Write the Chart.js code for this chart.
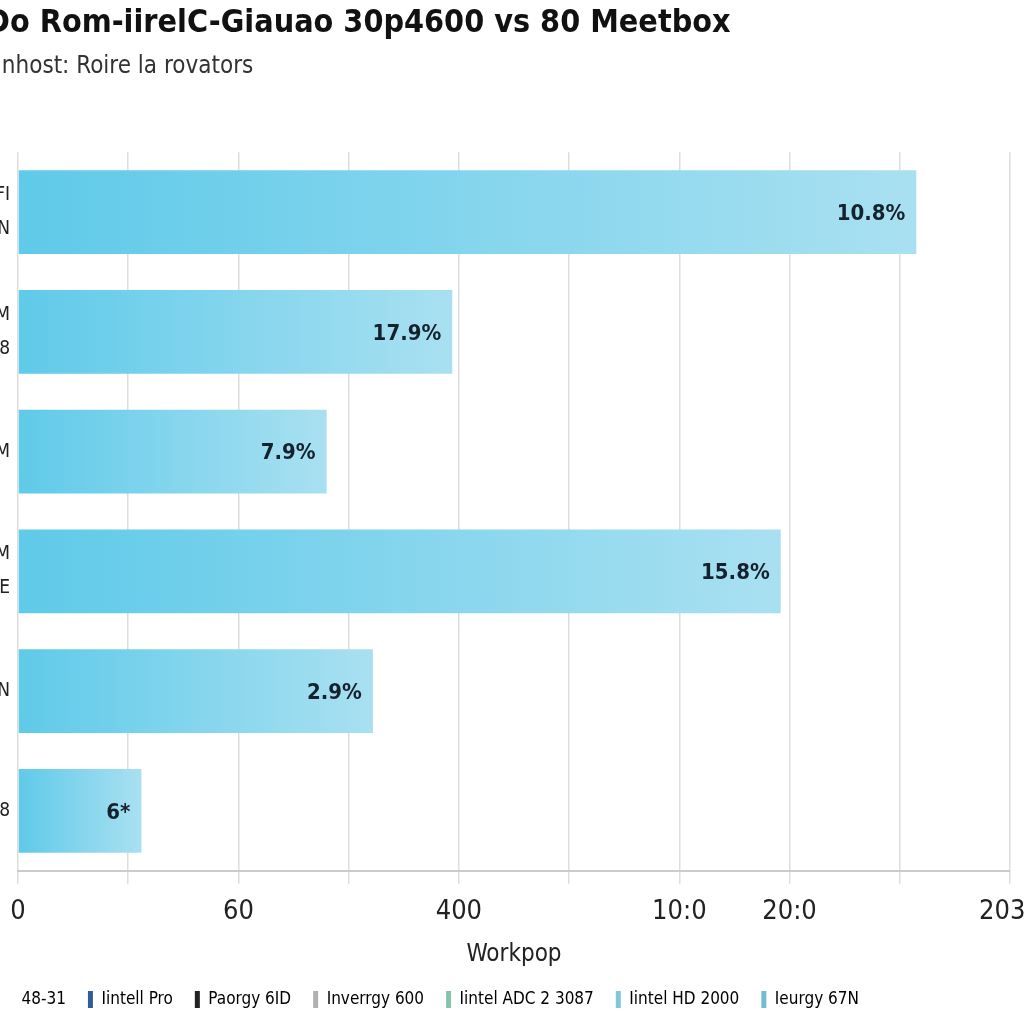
<!DOCTYPE html>
<html>
<head>
<meta charset="utf-8">
<script src="https://cdn.jsdelivr.net/npm/chart.js@4.4.1/dist/chart.umd.min.js"></script>
<style>
  html, body { margin: 0; padding: 0; background: #fff; overflow: hidden; }
  #wrap { position: absolute; left: -14px; top: 0; width: 1070px; height: 1024px; }
</style>
</head>
<body>
<div id="wrap"><canvas id="chart"></canvas></div>
<script>
const TITLE = 'Do Rom-iirelC-Giauao 30p4600 vs 80 Meetbox';
const SUBTITLE = 'Unhost: Roire la rovators';
const X_TITLE = 'Workpop';

const categories = [['FI', 'N'], ['M', '8'], ['M'], ['M', 'E'], ['N'], ['a8']];
const values = [8.15, 3.94, 2.8, 6.92, 3.22, 1.12];
const valueLabels = ['10.8%', '17.9%', '7.9%', '15.8%', '2.9%', '6*'];
const xTickLabels = ['0', '', '60', '', '400', '', '10:0', '20:0', '', '2030'];

const legendNames = ['48-31', 'Iintell Pro', 'Paorgy 6ID', 'Inverrgy 600', 'Iintel ADC 2 3087', 'Iintel HD 2000', 'Ieurgy 67N'];
const legendColors = ['rgba(0,0,0,0)', '#2f5d9c', '#222222', '#b0b0b0', '#86c4ab', '#7ec9dc', '#72bcd0'];

const NARROW = '"Liberation Sans Narrow", "DejaVu Sans Condensed", "Roboto", sans-serif';

// Left-to-right gradient along each bar
function barGradient(c) {
  const chart = c.chart;
  if (!chart.chartArea || c.type !== 'data') return '#6fd0ec';
  const x = chart.scales.x;
  const x0 = x.getPixelForValue(0);
  const x1 = x.getPixelForValue(c.raw);
  const g = chart.ctx.createLinearGradient(x0, 0, x1, 0);
  g.addColorStop(0, '#5fcae9');
  g.addColorStop(1, '#a9e0f1');
  return g;
}

// Percent labels inside the end of each bar
const valueLabelPlugin = {
  id: 'valueLabels',
  afterDatasetsDraw(chart) {
    const ctx = chart.ctx;
    const meta = chart.getDatasetMeta(0);
    ctx.save();
    ctx.font = 'bold 22px ' + NARROW;
    ctx.fillStyle = '#15222e';
    ctx.textAlign = 'right';
    ctx.textBaseline = 'middle';
    meta.data.forEach((bar, i) => {
      ctx.fillText(valueLabels[i], bar.x - 11, bar.y + 2);
    });
    ctx.restore();
  }
};

new Chart(document.getElementById('chart'), {
  type: 'bar',
  data: {
    labels: categories,
    datasets: [{
      data: values,
      backgroundColor: barGradient,
      borderWidth: 0,
      barPercentage: 0.7,
      categoryPercentage: 1
    }]
  },
  options: {
    indexAxis: 'y',
    responsive: true,
    maintainAspectRatio: false,
    animation: false,
    layout: { padding: { left: 0, right: 46, top: 0, bottom: 6 } },
    plugins: {
      title: {
        display: true,
        text: TITLE,
        align: 'start',
        color: '#111111',
        font: { family: NARROW, size: 32, weight: 'bold' },
        padding: { top: 4, bottom: 10 }
      },
      subtitle: {
        display: true,
        text: SUBTITLE,
        align: 'start',
        color: '#333333',
        font: { family: NARROW, size: 24 },
        padding: { top: 0, bottom: 71 }
      },
      legend: {
        position: 'bottom',
        align: 'start',
        labels: {
          boxWidth: 5,
          boxHeight: 17,
          padding: 22,
          color: '#333333',
          font: { family: NARROW, size: 17 },
          generateLabels: () => legendNames.map((name, i) => ({
            text: name,
            fillStyle: legendColors[i],
            strokeStyle: legendColors[i],
            lineWidth: 0,
            hidden: false,
            index: i
          }))
        }
      },
      tooltip: { enabled: false }
    },
    scales: {
      x: {
        type: 'linear',
        min: 0,
        max: 9,
        ticks: {
          stepSize: 1,
          color: '#222222',
          font: { family: NARROW, size: 27 },
          padding: 12,
          maxRotation: 0,
          autoSkip: false,
          callback: v => xTickLabels[v]
        },
        grid: { color: '#dddddd', lineWidth: 1.5, tickLength: 13 },
        border: { color: '#cccccc', width: 2 },
        title: {
          display: true,
          text: X_TITLE,
          color: '#222222',
          font: { family: NARROW, size: 24 },
          padding: { top: 0, bottom: 0 }
        }
      },
      y: {
        ticks: {
          color: '#222222',
          font: { family: NARROW, size: 19, lineHeight: 1.8 },
          padding: 0
        },
        grid: { display: false },
        border: { display: false },
        afterFit(scale) { scale.width = 32; }
      }
    }
  },
  plugins: [valueLabelPlugin]
});
</script>
</body>
</html>
